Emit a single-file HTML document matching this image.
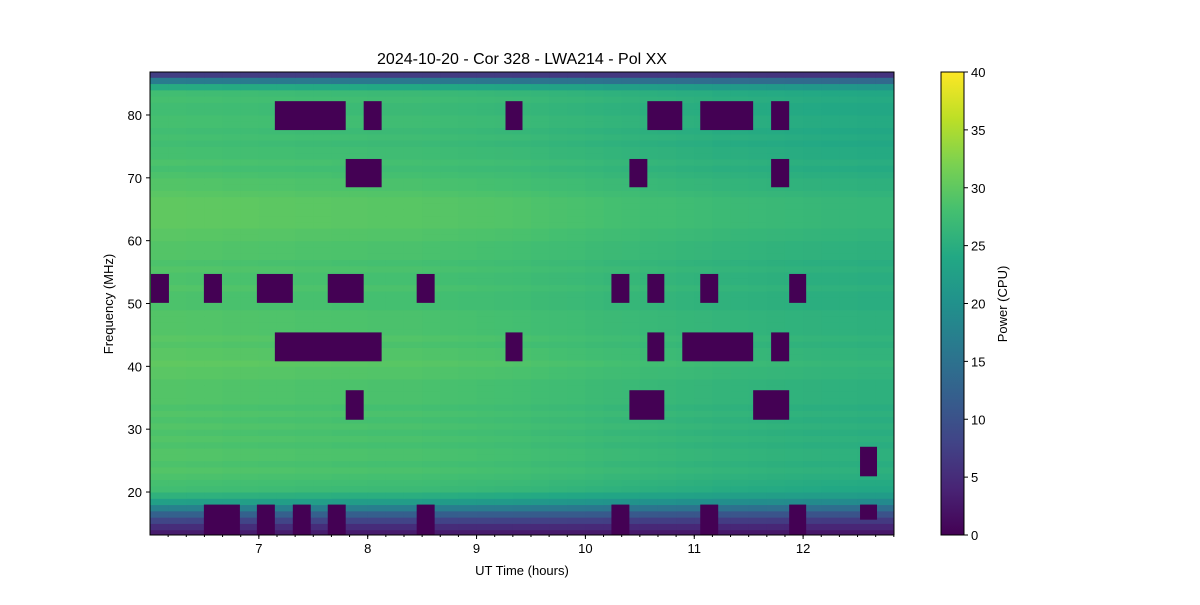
<!DOCTYPE html>
<html><head><meta charset="utf-8"><style>
body{margin:0;background:#fff}
text{font-family:"Liberation Sans",sans-serif;fill:#000}
</style></head><body>
<svg id="c" width="1200" height="600" xmlns="http://www.w3.org/2000/svg">
<rect width="1200" height="600" fill="#fff"/>
<text x="522" y="64" font-size="16" text-anchor="middle">2024-10-20 - Cor 328 - LWA214 - Pol XX</text>
<g id="heat"></g>
<g id="blocks"></g>
<rect x="150" y="72" width="744" height="463" fill="none" stroke="#000" stroke-width="1"/>
<g id="xaxis"></g>
<g id="yaxis"></g>
<text x="522" y="575" font-size="13" text-anchor="middle">UT Time (hours)</text>
<text x="0" y="0" font-size="13" text-anchor="middle" transform="translate(113,304) rotate(-90)">Frequency (MHz)</text>
<defs><linearGradient id="cbg" x1="0" y1="1" x2="0" y2="0"></linearGradient></defs>
<rect x="941" y="72" width="23" height="463" fill="url(#cbg)" stroke="#000" stroke-width="1"/>
<g id="cbaxis"></g>
<text x="0" y="0" font-size="13" text-anchor="middle" transform="translate(1007,304) rotate(-90)">Power (CPU)</text>
</svg>
<script>
// data
const freqRows = [13,14,15,16,17,18,19,20,21,22,23,24,25,26,27,28,29,30,31,32,33,34,35,36,37,38,39,40,41,42,43,44,45,46,47,48,49,50,51,52,53,54,55,56,57,58,59,60,61,62,63,64,65,66,67,68,69,70,71,72,73,74,75,76,77,78,79,80,81,82,83,84,85,86];
const freqPower = [3,5,8,12,17,22,25,27,27.5,28,28.5,28,28.5,28.5,28,28.5,28,28.5,28,28.5,28,28.5,28.5,28.5,28.5,29,29,29.5,29,29,28.5,29,28.5,28.5,28.5,28.5,28,28,28,28.5,28,28,28.5,28,28.5,28.5,28.5,29,29,29.5,29.5,29.5,29.5,29.5,29,28.5,28.5,28,27.5,28,27.5,27.5,27,27.5,27,27.5,27.5,27,27,27.5,27,24,16,7];
const timeBins = [6.0,6.1667,6.3333,6.5,6.6667,6.8333,7.0,7.1667,7.3333,7.5,7.6667,7.8333,8.0,8.1667,8.3333,8.5,8.6667,8.8333,9.0,9.1667,9.3333,9.5,9.6667,9.8333,10.0,10.1667,10.3333,10.5,10.6667,10.8333,11.0,11.1667,11.3333,11.5,11.6667,11.8333,12.0,12.1667,12.3333,12.5,12.6667];
const timeOffset = [0.6,0.6,0.5,0.5,0.4,0.4,0.3,0.3,0.2,0.2,0.1,0.1,0,0,0,-0.1,-0.2,-0.3,-0.4,-0.5,-0.6,-0.8,-1,-1.1,-1.3,-1.5,-1.6,-1.8,-1.9,-2.1,-2.2,-2.4,-2.5,-2.6,-2.7,-2.8,-2.9,-3,-3,-3.1,-3.1];
const blockT0 = [7.147,7.963,9.266,10.569,11.055,11.706, 7.798,10.404,11.706, 6.009,6.495,6.982,7.633,8.450,10.239,10.569,11.055,11.872, 7.147,9.266,10.569,10.890,11.706, 7.798,10.404,11.541, 12.523, 6.495,6.982,7.312,7.633,8.450,10.239,11.055,11.872,12.523];
const blockT1 = [7.798,8.128,9.422,10.890,11.541,11.872, 8.128,10.569,11.872, 6.174,6.661,7.312,7.963,8.615,10.404,10.725,11.220,12.028, 8.128,9.422,10.725,11.541,11.872, 7.963,10.725,11.872, 12.679, 6.826,7.147,7.477,7.798,8.615,10.404,11.220,12.028,12.679];
const blockF0 = [77.6,77.6,77.6,77.6,77.6,77.6, 68.5,68.5,68.5, 50.1,50.1,50.1,50.1,50.1,50.1,50.1,50.1,50.1, 40.8,40.8,40.8,40.8,40.8, 31.5,31.5,31.5, 22.5, 13.16,13.16,13.16,13.16,13.16,13.16,13.16,13.16,15.6];
const blockF1 = [82.2,82.2,82.2,82.2,82.2,82.2, 73,73,73, 54.7,54.7,54.7,54.7,54.7,54.7,54.7,54.7,54.7, 45.4,45.4,45.4,45.4,45.4, 36.2,36.2,36.2, 27.2, 18,18,18,18,18,18,18,18,18];
const xTicks = [7,8,9,10,11,12];
const yTicks = [20,30,40,50,60,70,80];
const cbTicks = [0,5,10,15,20,25,30,35,40];

const X0=150,X1=894,Y0=72,Y1=535,TMIN=6.0,TMAX=12.835,FMIN=13.16,FMAX=86.84;
const xs=t=>X0+(t-TMIN)/(TMAX-TMIN)*(X1-X0);
const ys=f=>Y1-(f-FMIN)/(FMAX-FMIN)*(Y1-Y0);
const VIR=[[68,1,84],[72,36,117],[65,68,135],[53,95,141],[42,120,142],[33,145,140],[34,168,132],[68,191,112],[122,209,81],[189,223,38],[253,231,37]];
function vir(p){let v=Math.max(0,Math.min(1,p/40))*10;let i=Math.min(9,Math.floor(v)),f=v-i;const a=VIR[i],b=VIR[i+1];return `rgb(${a.map((c,k)=>Math.round(c+(b[k]-c)*f)).join(',')})`;}
const NS='http://www.w3.org/2000/svg';
function mk(tag,attrs,parent){const e=document.createElementNS(NS,tag);for(const k in attrs)e.setAttribute(k,attrs[k]);parent.appendChild(e);return e;}
const heat=document.getElementById('heat');
for(let i=0;i<freqRows.length;i++){
  for(let j=0;j<timeBins.length;j++){
    const x0=Math.max(X0,xs(timeBins[j])),x1=Math.min(X1,xs(timeBins[j]+1/6));
    const yt=Math.max(Y0,ys(freqRows[i]+1)),yb=Math.min(Y1,ys(freqRows[i]));
    if(x1<=x0||yb<=yt)continue;
    const scale=freqPower[i]>20?1:freqPower[i]/20;
    const r=mk('rect',{x:x0,y:yt,width:x1-x0+0.5,height:yb-yt+0.5,fill:vir(freqPower[i]+timeOffset[j]*scale)},heat);
    
    
  }
}
const bl=document.getElementById('blocks');
for(let i=0;i<blockT0.length;i++){
  const r=mk('rect',{x:xs(blockT0[i]),y:ys(blockF1[i]),width:xs(blockT1[i])-xs(blockT0[i]),height:ys(blockF0[i])-ys(blockF1[i]),fill:'#440154'},bl);
  
  
}
const xa=document.getElementById('xaxis');
for(let t=6+1/6;t<TMAX;t+=1/6){mk('line',{x1:xs(t),x2:xs(t),y1:Y1,y2:Y1+2,stroke:'#000'},xa);}
xTicks.forEach(t=>{mk('line',{x1:xs(t),x2:xs(t),y1:Y1,y2:Y1+4,stroke:'#000'},xa);
  const tx=mk('text',{x:xs(t),y:Y1+18,'font-size':13,'text-anchor':'middle'},xa);tx.textContent=t;
  
  });
const ya=document.getElementById('yaxis');
yTicks.forEach(f=>{mk('line',{x1:X0-4,x2:X0,y1:ys(f),y2:ys(f),stroke:'#000'},ya);
  const tx=mk('text',{x:X0-8,y:ys(f)+5,'font-size':13,'text-anchor':'end'},ya);tx.textContent=f;
  
  });
const g=document.getElementById('cbg');
for(let k=0;k<=10;k++){mk('stop',{offset:k/10,'stop-color':vir(k*4)},g);}
const ca=document.getElementById('cbaxis');
cbTicks.forEach(v=>{const y=Y1-v/40*(Y1-Y0);mk('line',{x1:964,x2:968,y1:y,y2:y,stroke:'#000'},ca);
  const tx=mk('text',{x:971,y:y+5,'font-size':13},ca);tx.textContent=v;
  
  });
</script>
</body></html>
